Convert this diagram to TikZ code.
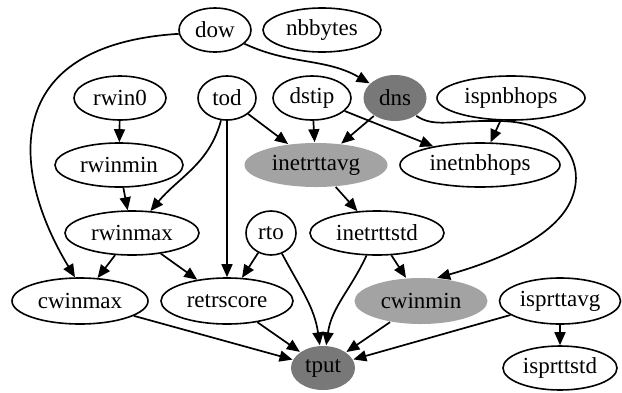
\documentclass[tikz,border=0pt]{standalone}
\usepackage{fontspec}
\setmainfont{Liberation Serif}
\usetikzlibrary{shapes.geometric,arrows.meta}
\definecolor{darkfill}{HTML}{787878}
\definecolor{lightfill}{HTML}{A3A3A3}
\begin{document}
\begin{tikzpicture}[x=1pt,y=-1pt,
  var/.style={ellipse, draw, line width=1.6pt, inner sep=0pt, minimum height=44pt,
              font=\fontsize{23}{27}\selectfont},
  darkvar/.style={var, draw=none, fill=darkfill},
  lightvar/.style={var, draw=none, fill=lightfill},
  link/.style={line width=1.7pt, -{Triangle[length=13pt,width=11pt]}}
]
\useasboundingbox (0,0) rectangle (622,392);

% variables
\node[var, minimum width=72pt]  (dow)        at (215,30)  {dow};
\node[var, minimum width=118pt] (nbbytes)    at (322,30)  {nbbytes};
\node[var, minimum width=92pt]  (rwin0)      at (120,98)  {rwin0};
\node[var, minimum width=58pt]  (tod)        at (227,98)  {tod};
\node[var, minimum width=78pt]  (dstip)      at (312,98)  {dstip};
\node[darkvar, minimum width=63pt, minimum height=46pt] (dns) at (395,98) {dns};
\node[var, minimum width=148pt] (ispnbhops)  at (511,98)  {ispnbhops};
\node[var, minimum width=128pt] (rwinmin)    at (119,165) {rwinmin};
\node[lightvar, minimum width=143pt] (inetrttavg) at (316,165) {inetrttavg};
\node[var, minimum width=160pt] (inetnbhops) at (480,165) {inetnbhops};
\node[var, minimum width=134pt] (rwinmax)    at (132,233) {rwinmax};
\node[var, minimum width=50pt]  (rto)        at (271,233) {rto};
\node[var, minimum width=134pt] (inetrttstd) at (377,233) {inetrttstd};
\node[var, minimum width=136pt, minimum height=46pt] (cwinmax) at (80,301) {cwinmax};
\node[var, minimum width=132pt, minimum height=46pt] (retrscore) at (227,301) {retrscore};
\node[lightvar, minimum width=133pt, minimum height=46pt] (cwinmin) at (421,301) {cwinmin};
\node[var, minimum width=121pt, minimum height=46pt] (isprttavg) at (560,301) {isprttavg};
\node[darkvar, minimum width=64pt] (tput)    at (323,368) {tput};
\node[var, minimum width=114pt] (isprttstd)  at (560,368) {isprttstd};

% dependencies
\draw[link] (dow.186) .. controls (0,45) and (10,170) .. (cwinmax.102);
\draw[link] (dow) to[out=-25,in=150] (dns);
\draw[link] (rwin0) -- (rwinmin);
\draw[link] (rwinmin) -- (rwinmax);
\draw[link] (tod) to[out=-105,in=50] (rwinmax);
\draw[link] (tod) -- (retrscore);
\draw[link] (tod) -- (inetrttavg);
\draw[link] (dstip) -- (inetrttavg);
\draw[link] (dstip) -- (inetnbhops);
\draw[link] (dns) -- (inetrttavg);
\draw[link] (dns.-40) .. controls (435,128) and (450,120) .. (500,121)
            .. controls (560,122) and (585,160) .. (573,195)
            .. controls (560,235) and (500,260) .. (cwinmin.55);
\draw[link] (ispnbhops) -- (inetnbhops);
\draw[link] (inetrttavg) -- (inetrttstd);
\draw[link] (rwinmax) -- (cwinmax);
\draw[link] (rwinmax) -- (retrscore);
\draw[link] (rto) -- (retrscore);
\draw[link] (rto) to[out=-62,in=98] (tput);
\draw[link] (inetrttstd) -- (cwinmin);
\draw[link] (inetrttstd) to[out=-115,in=82] (tput);
\draw[link] (cwinmax) -- (tput);
\draw[link] (retrscore) -- (tput);
\draw[link] (cwinmin) -- (tput);
\draw[link] (isprttavg) -- (tput);
\draw[link] (isprttavg) -- (isprttstd);
\end{tikzpicture}
\end{document}
